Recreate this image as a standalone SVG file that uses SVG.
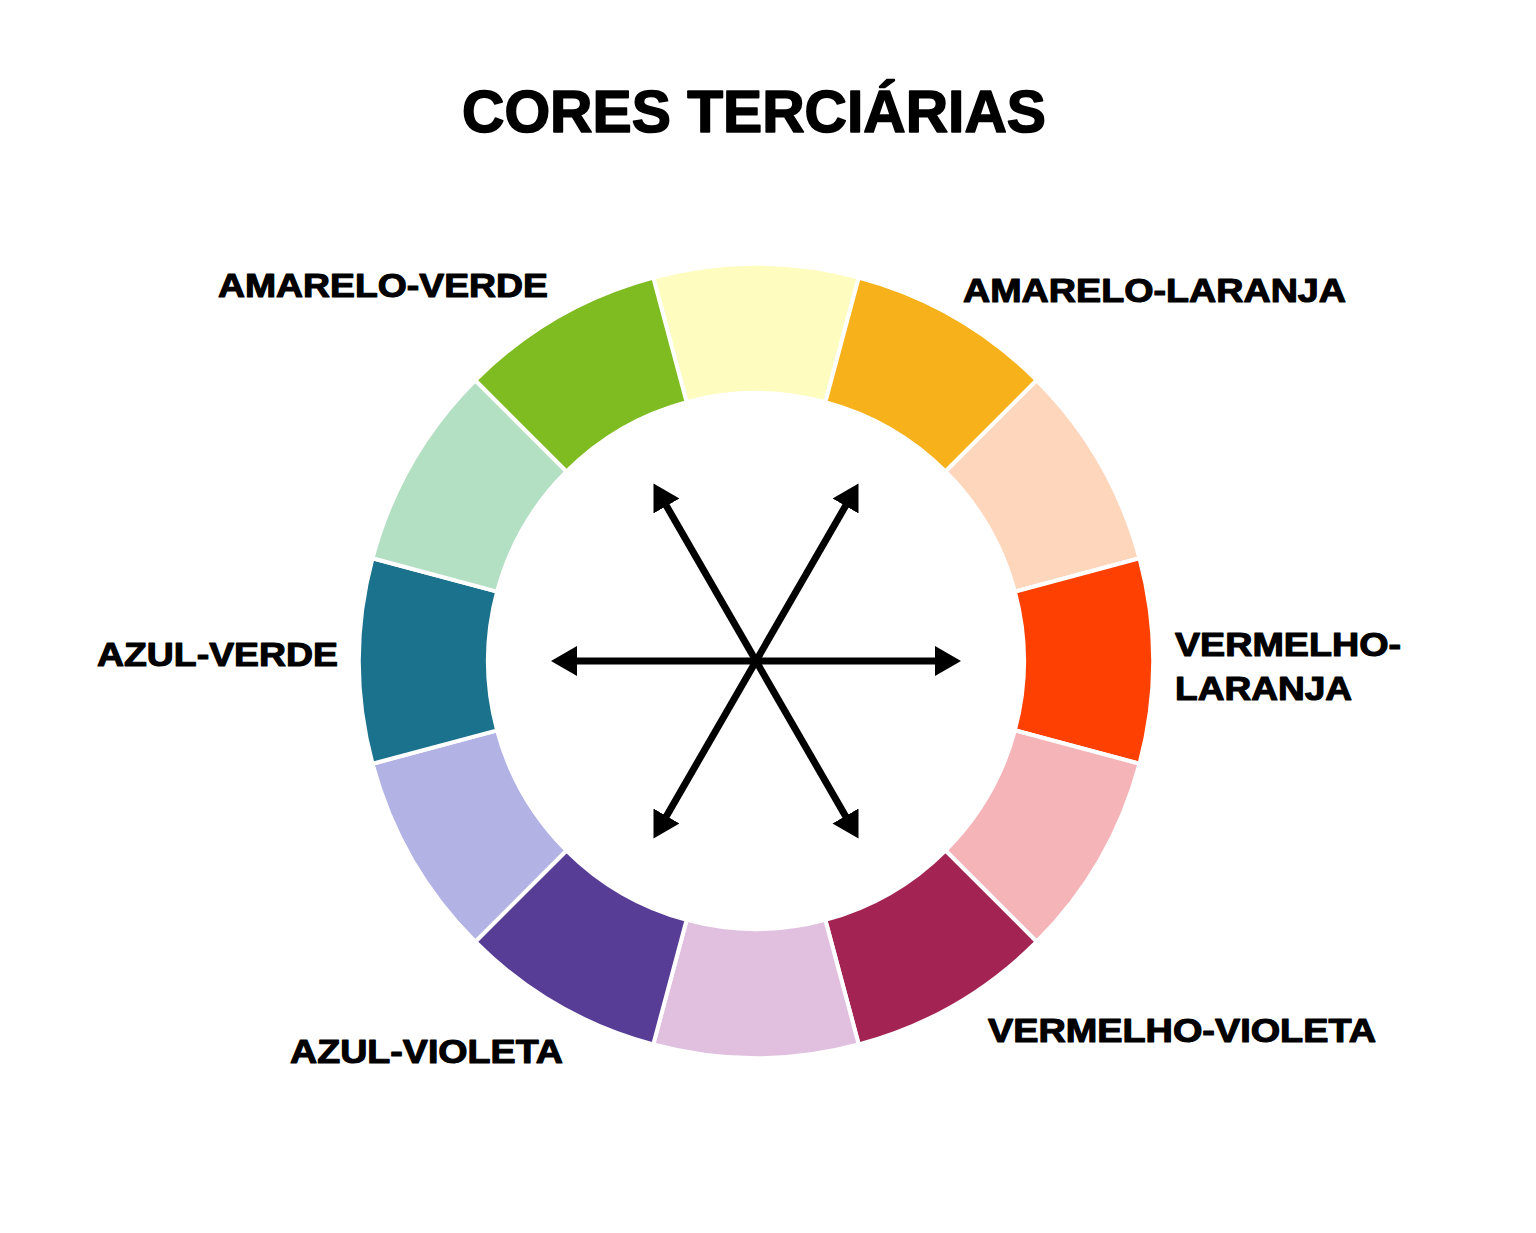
<svg xmlns="http://www.w3.org/2000/svg" width="1536" height="1233" viewBox="0 0 1536 1233">
<style>
.seg{stroke:#ffffff;stroke-width:4;stroke-linejoin:miter}
.lbl{font-family:"Liberation Sans",Arial,sans-serif;font-weight:bold;font-size:33px;fill:#000000;stroke:#000000;stroke-width:1.1;stroke-linejoin:round}
.title{font-family:"Liberation Sans",Arial,sans-serif;font-weight:bold;font-size:59px;fill:#000000;stroke:#000000;stroke-width:1.6;stroke-linejoin:round}
.arr{stroke:#000000;stroke-width:7;fill:none;marker-start:url(#head);marker-end:url(#head)}
</style>
<defs>
<marker id="head" markerUnits="userSpaceOnUse" markerWidth="26" markerHeight="30" viewBox="0 0 26 30" refX="6" refY="15" orient="auto-start-reverse">
<path d="M0,0 L26,15 L0,30 Z" fill="#000000"/>
</marker>
</defs>
<rect width="1536" height="1233" fill="#ffffff"/>
<text class="title" x="754" y="132" text-anchor="middle" textLength="584" lengthAdjust="spacingAndGlyphs">CORES TERCIÁRIAS</text>
<g id="wheel">
<path id="seg-0" class="seg" fill="#FEFCBF" d="M653.25,277.53 A397,397 0 0 1 858.75,277.53 L825.36,402.13 A268,268 0 0 0 686.64,402.13 Z"/>
<path id="seg-30" class="seg" fill="#F7B11A" d="M858.75,277.53 A397,397 0 0 1 1036.72,380.28 L945.50,471.50 A268,268 0 0 0 825.36,402.13 Z"/>
<path id="seg-60" class="seg" fill="#FDD6BC" d="M1036.72,380.28 A397,397 0 0 1 1139.47,558.25 L1014.87,591.64 A268,268 0 0 0 945.50,471.50 Z"/>
<path id="seg-90" class="seg" fill="#FE4003" d="M1139.47,558.25 A397,397 0 0 1 1139.47,763.75 L1014.87,730.36 A268,268 0 0 0 1014.87,591.64 Z"/>
<path id="seg-120" class="seg" fill="#F5B5B8" d="M1139.47,763.75 A397,397 0 0 1 1036.72,941.72 L945.50,850.50 A268,268 0 0 0 1014.87,730.36 Z"/>
<path id="seg-150" class="seg" fill="#A32453" d="M1036.72,941.72 A397,397 0 0 1 858.75,1044.47 L825.36,919.87 A268,268 0 0 0 945.50,850.50 Z"/>
<path id="seg-180" class="seg" fill="#E1C0DF" d="M858.75,1044.47 A397,397 0 0 1 653.25,1044.47 L686.64,919.87 A268,268 0 0 0 825.36,919.87 Z"/>
<path id="seg-210" class="seg" fill="#573D96" d="M653.25,1044.47 A397,397 0 0 1 475.28,941.72 L566.50,850.50 A268,268 0 0 0 686.64,919.87 Z"/>
<path id="seg-240" class="seg" fill="#B2B2E4" d="M475.28,941.72 A397,397 0 0 1 372.53,763.75 L497.13,730.36 A268,268 0 0 0 566.50,850.50 Z"/>
<path id="seg-270" class="seg" fill="#1B728C" d="M372.53,763.75 A397,397 0 0 1 372.53,558.25 L497.13,591.64 A268,268 0 0 0 497.13,730.36 Z"/>
<path id="seg-300" class="seg" fill="#B3DFC3" d="M372.53,558.25 A397,397 0 0 1 475.28,380.28 L566.50,471.50 A268,268 0 0 0 497.13,591.64 Z"/>
<path id="seg-330" class="seg" fill="#7FBC22" d="M475.28,380.28 A397,397 0 0 1 653.25,277.53 L686.64,402.13 A268,268 0 0 0 566.50,471.50 Z"/>
</g>
<g id="connectors">
<line class="arr" x1="571" y1="661" x2="941" y2="661"/>
<line class="arr" x1="663.5" y1="821.2" x2="848.5" y2="500.8"/>
<line class="arr" x1="848.5" y1="821.2" x2="663.5" y2="500.8"/>
</g>
<g id="label-amarelo-verde"><text class="lbl" x="218" y="297" textLength="330" lengthAdjust="spacingAndGlyphs">AMARELO-VERDE</text></g>
<g id="label-amarelo-laranja"><text class="lbl" x="963" y="302" textLength="383" lengthAdjust="spacingAndGlyphs">AMARELO-LARANJA</text></g>
<g id="label-vermelho-laranja">
<text class="lbl" x="1175" y="656" textLength="226" lengthAdjust="spacingAndGlyphs">VERMELHO-</text>
<text class="lbl" x="1175" y="700" textLength="177" lengthAdjust="spacingAndGlyphs">LARANJA</text>
</g>
<g id="label-azul-verde"><text class="lbl" x="97" y="666" textLength="241" lengthAdjust="spacingAndGlyphs">AZUL-VERDE</text></g>
<g id="label-vermelho-violeta"><text class="lbl" x="988" y="1042" textLength="388" lengthAdjust="spacingAndGlyphs">VERMELHO-VIOLETA</text></g>
<g id="label-azul-violeta"><text class="lbl" x="290" y="1063" textLength="273" lengthAdjust="spacingAndGlyphs">AZUL-VIOLETA</text></g>
</svg>
